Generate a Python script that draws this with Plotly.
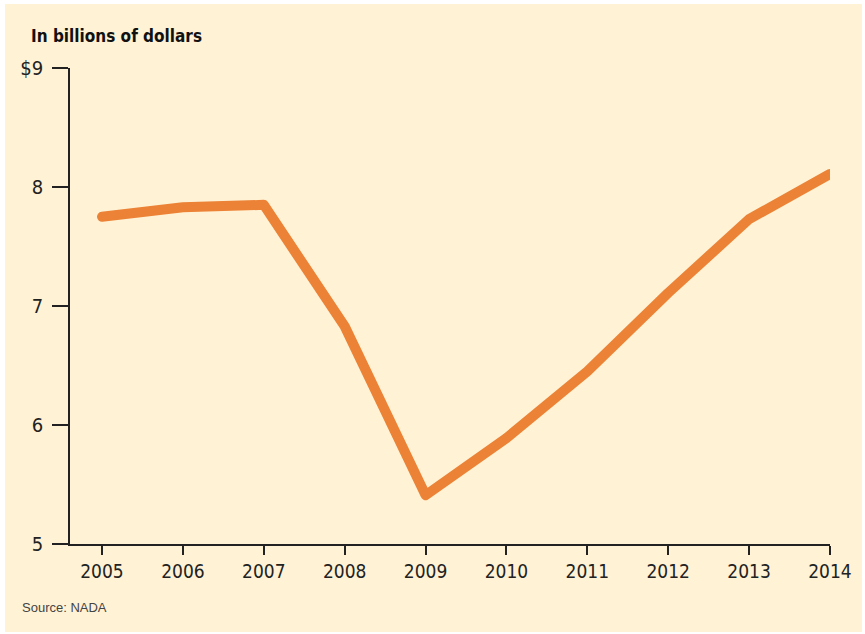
import plotly.graph_objects as go

years = [2005, 2006, 2007, 2008, 2009, 2010, 2011, 2012, 2013, 2014]
values = [7.75, 7.83, 7.85, 6.83, 5.41, 5.89, 6.45, 7.11, 7.73, 8.11]
y_ticks = [5, 6, 7, 8, 9]
y_tick_labels = ["5", "6", "7", "8", "$9"]
x_tick_labels = [str(y) for y in years]

CREAM = "#FFF2D5"
ORANGE = "#EC8235"
COND = "DejaVu Sans Condensed, Liberation Sans Narrow, Arial Narrow, sans-serif"

W, H = 865, 634
L, R, T, B = 70, 35, 68, 90
pw = W - L - R
ph = H - T - B

def px(p):
    return (p - L) / pw

def py(p):
    return (H - B - p) / ph

fig = go.Figure()
fig.add_trace(go.Scatter(
    x=years, y=values, mode="lines",
    line=dict(color=ORANGE, width=10),
    hoverinfo="skip", showlegend=False,
))

fig.update_layout(
    width=W, height=H,
    margin=dict(l=L, r=R, t=T, b=B, pad=0, autoexpand=False),
    paper_bgcolor="white",
    plot_bgcolor="rgba(0,0,0,0)",
    showlegend=False,
    xaxis=dict(
        range=[2005 - 32 / 80.9, 2014],
        tickvals=years, ticktext=x_tick_labels,
        showgrid=False, zeroline=False,
        showline=True, linecolor="#222", linewidth=1.5,
        ticks="outside", ticklen=9, tickwidth=1.5, tickcolor="#222",
        tickfont=dict(family=COND, size=19, color="#222"),
        automargin=False,
        fixedrange=True,
    ),
    yaxis=dict(
        range=[5, 9],
        tickvals=y_ticks, ticktext=y_tick_labels,
        showgrid=False, zeroline=False,
        showline=True, linecolor="#222", linewidth=1.5,
        ticks="outside", ticklen=16, tickwidth=1.5, tickcolor="#222",
        tickfont=dict(family=COND, size=20, color="#222"),
        ticklabelstandoff=5,
        automargin=False,
        fixedrange=True,
    ),
    shapes=[dict(
        type="rect", xref="paper", yref="paper", layer="below",
        x0=px(5), x1=px(862), y0=py(632), y1=py(4),
        fillcolor=CREAM, line=dict(width=0),
    )],
    annotations=[
        dict(text="<b>In billions of dollars</b>", xref="paper", yref="paper",
             x=px(29), y=py(36), xanchor="left", yanchor="middle",
             showarrow=False, font=dict(family=COND, size=17, color="#111")),
        dict(text="Source: NADA", xref="paper", yref="paper",
             x=px(20), y=py(607), xanchor="left", yanchor="middle",
             showarrow=False, font=dict(family="Liberation Sans, Arial, sans-serif", size=13, color="#444")),
    ],
)

fig.write_html(
    "out.html",
    config={"displayModeBar": False},
    post_script=(
        "document.body.style.margin='0';document.body.style.overflow='hidden';"
        "document.querySelectorAll('.js-line').forEach(function(p){"
        "p.style.strokeLinecap='round';p.style.strokeLinejoin='round';});"
    ),
)
